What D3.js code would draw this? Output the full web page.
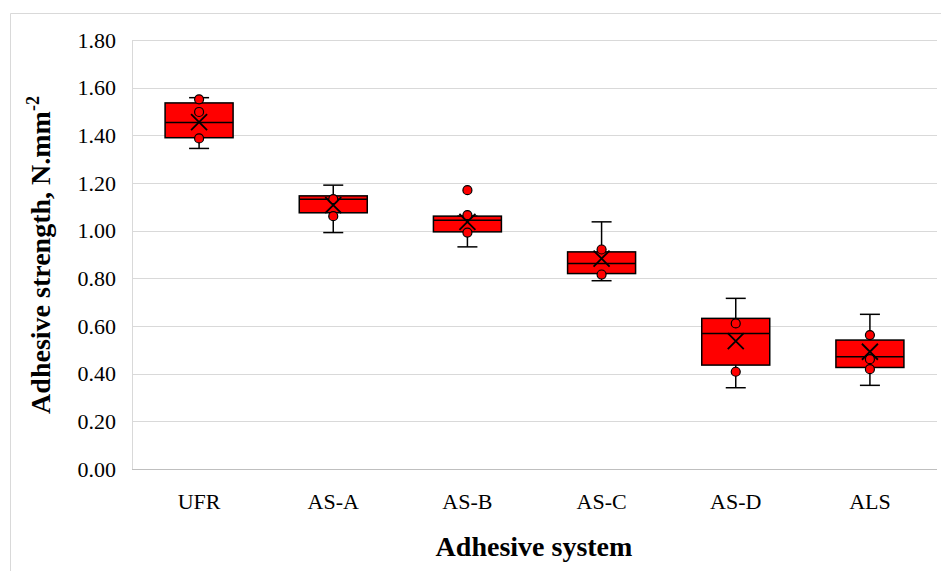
<!DOCTYPE html>
<meta charset="utf-8">
<style>
body{margin:0;background:#fff;}
svg text{font-family:"Liberation Serif","Times New Roman",serif;fill:#000;}
</style>
<svg id="chart" width="941" height="571"></svg>
<script src="https://d3js.org/d3.v7.min.js"></script>
<script>
// categories and box statistics
const categories = ['UFR','AS-A','AS-B','AS-C','AS-D','ALS']
const whiskerLow  = [1.345, 0.992, 0.932, 0.790, 0.341, 0.351]
const boxLow      = [1.390, 1.075, 0.995, 0.820, 0.436, 0.426]
const medians     = [1.454, 1.132, 1.044, 0.862, 0.569, 0.471]
const boxHigh     = [1.536, 1.146, 1.061, 0.911, 0.632, 0.541]
const whiskerHigh = [1.558, 1.191, 1.061, 1.037, 0.716, 0.649]
const means       = [1.455, 1.107, 1.037, 0.883, 0.537, 0.492]
// individual points drawn as dots (inner points and outliers)
const points = [
  [1.551, 1.498, 1.387],
  [1.132, 1.061],
  [1.170, 1.065, 0.992],
  [0.921, 0.816],
  [0.611, 0.408],
  [0.562, 0.461, 0.419]
]
const yTicks = [0,0.2,0.4,0.6,0.8,1.0,1.2,1.4,1.6,1.8]

const svg = d3.select('#chart')
const plotLeft = 132, plotRight = 937, plotTop = 40, plotBottom = 469
const serif = '"Liberation Serif","Times New Roman",serif'

// chart frame
svg.append('path')
  .attr('d', 'M10.5,571 V13.5 H941')
  .attr('fill','none').attr('stroke','#d9d9d9')

const x = d3.scaleBand().domain(categories).range([plotLeft, plotRight])
const y = d3.scaleLinear().domain([0,1.8]).range([plotBottom, plotTop])

// gridlines
svg.append('g').selectAll('line').data(yTicks).join('line')
  .attr('x1', plotLeft).attr('x2', plotRight)
  .attr('y1', d => Math.round(y(d))+0.5).attr('y2', d => Math.round(y(d))+0.5)
  .attr('stroke', d => d === 0 ? '#bfbfbf' : '#d9d9d9')
svg.append('line')
  .attr('x1', plotLeft+0.5).attr('x2', plotLeft+0.5).attr('y1', plotTop).attr('y2', plotBottom)
  .attr('stroke','#d9d9d9')

// y tick labels
const yAxis = svg.append('g')
  .attr('transform', `translate(${plotLeft},0)`)
  .call(d3.axisLeft(y).tickValues(yTicks).tickFormat(d3.format('.2f')).tickSize(0).tickPadding(16))
yAxis.select('.domain').remove()
yAxis.selectAll('text').style('font-size','22px').style('font-family',serif)

// x tick labels
const xAxis = svg.append('g')
  .attr('transform', `translate(0,${plotBottom})`)
  .call(d3.axisBottom(x).tickSize(0).tickPadding(24))
xAxis.select('.domain').remove()
xAxis.selectAll('text').style('font-size','22px').style('font-family',serif)

const bw = 68, cap = 20
const cx = d => x(d) + x.bandwidth()/2
const groups = svg.append('g').selectAll('g').data(categories).join('g')

// whiskers
groups.append('line')
  .attr('x1', cx).attr('x2', cx)
  .attr('y1', (d,i) => y(whiskerLow[i])).attr('y2', (d,i) => y(whiskerHigh[i]))
  .attr('stroke','#000').attr('stroke-width',1.5)
groups.each(function(d,i){
  const g = d3.select(this)
  ;[whiskerLow[i], whiskerHigh[i]].forEach(v => {
    g.append('line')
      .attr('x1', cx(d)-cap/2).attr('x2', cx(d)+cap/2)
      .attr('y1', y(v)).attr('y2', y(v))
      .attr('stroke','#000').attr('stroke-width',1.5)
  })
})

// boxes
groups.append('rect')
  .attr('x', d => cx(d)-bw/2).attr('width', bw)
  .attr('y', (d,i) => y(boxHigh[i])).attr('height', (d,i) => y(boxLow[i]) - y(boxHigh[i]))
  .attr('fill','#ff0000').attr('stroke','#000').attr('stroke-width',1.5)
groups.append('line')
  .attr('x1', d => cx(d)-bw/2).attr('x2', d => cx(d)+bw/2)
  .attr('y1', (d,i) => y(medians[i])).attr('y2', (d,i) => y(medians[i]))
  .attr('stroke','#000').attr('stroke-width',1.5)

// points
groups.each(function(d,i){
  d3.select(this).selectAll('circle').data(points[i]).join('circle')
    .attr('cx', cx(d)).attr('cy', v => y(v)).attr('r',4.5)
    .attr('fill','#ff0000').attr('stroke','#000').attr('stroke-width',1.2)
})

// mean markers
const m = 8
groups.append('path')
  .attr('d', (d,i) => {
    const px = cx(d), py = y(means[i])
    return `M${px-m},${py-m}L${px+m},${py+m}M${px-m},${py+m}L${px+m},${py-m}`
  })
  .attr('stroke','#000').attr('stroke-width',1.8).attr('fill','none')

// axis titles
svg.append('text')
  .attr('x', 534).attr('y', 556)
  .attr('text-anchor','middle')
  .style('font-size','28px').style('font-weight','bold').style('font-family',serif)
  .text('Adhesive system')

const yt = svg.append('text')
  .attr('transform','translate(50,255) rotate(-90)')
  .attr('text-anchor','middle')
  .style('font-size','28px').style('font-weight','bold').style('font-family',serif)
yt.append('tspan').text('Adhesive strength, N.mm')
yt.append('tspan').attr('dy',-11).style('font-size','18px').text('-2')
</script>
